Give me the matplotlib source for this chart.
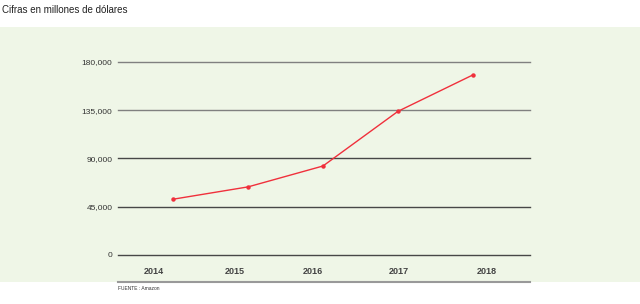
import matplotlib
matplotlib.use("Agg")
import matplotlib.pyplot as plt
from matplotlib.patches import Rectangle

# data
years = ["2014", "2015", "2016", "2017", "2018"]
revenue = [52000, 63500, 83000, 134000, 168000]
y_ticks = [0, 45000, 90000, 135000, 180000]
y_tick_labels = ["0", "45,000", "90,000", "135,000", "180,000"]
year_label_pos = [-0.25, 0.83, 1.87, 3.01, 4.19]

plt.rcParams["font.family"] = ["Liberation Sans Narrow", "Liberation Sans", "DejaVu Sans"]

fig = plt.figure(figsize=(6.4, 3.04), dpi=100)
fig.patch.set_facecolor("white")

# light green panel
fig.patches.append(Rectangle((0, 1 - 282 / 304), 1, 255 / 304, transform=fig.transFigure,
                             facecolor="#eff6e7", edgecolor="none", zorder=-10))

fig.text(2 / 640, 1 - 10 / 304, "Cifras en millones de dólares", fontsize=7,
         color="#222222", ha="left", va="center")

ax = fig.add_axes([118 / 640, 1 - 282 / 304, 412 / 640, 220 / 304])
ax.set_facecolor("none")
ax.set_xlim(-0.733, 4.76)
ax.set_ylim(-25200, 180000)

for v in y_ticks:
    col = "#808080" if v >= 135000 else "#474747"
    ax.axhline(v, color=col, linewidth=1.0, zorder=1, clip_on=False)

ax.plot(range(len(years)), revenue, color="#f0303c", linewidth=1.0,
        marker="o", markersize=2.2, zorder=3)

ax.set_yticks(y_ticks)
ax.set_yticklabels(y_tick_labels, fontsize=6, color="#333333")
ax.tick_params(axis="y", length=0, pad=4)
ax.set_xticks([])

for x, yr in zip(year_label_pos, years):
    ax.text(x, -15000, yr, ha="center", va="center", fontsize=6.5,
            color="#444444", fontweight="bold")

for s in ["top", "right", "left"]:
    ax.spines[s].set_visible(False)
ax.spines["bottom"].set_color("#999999")
ax.spines["bottom"].set_linewidth(1.5)

fig.text(118 / 640, 1 - 288 / 304, "FUENTE : Amazon", fontsize=3.5,
         color="#333333", ha="left", va="center")

fig.savefig("out.png", dpi=100)
